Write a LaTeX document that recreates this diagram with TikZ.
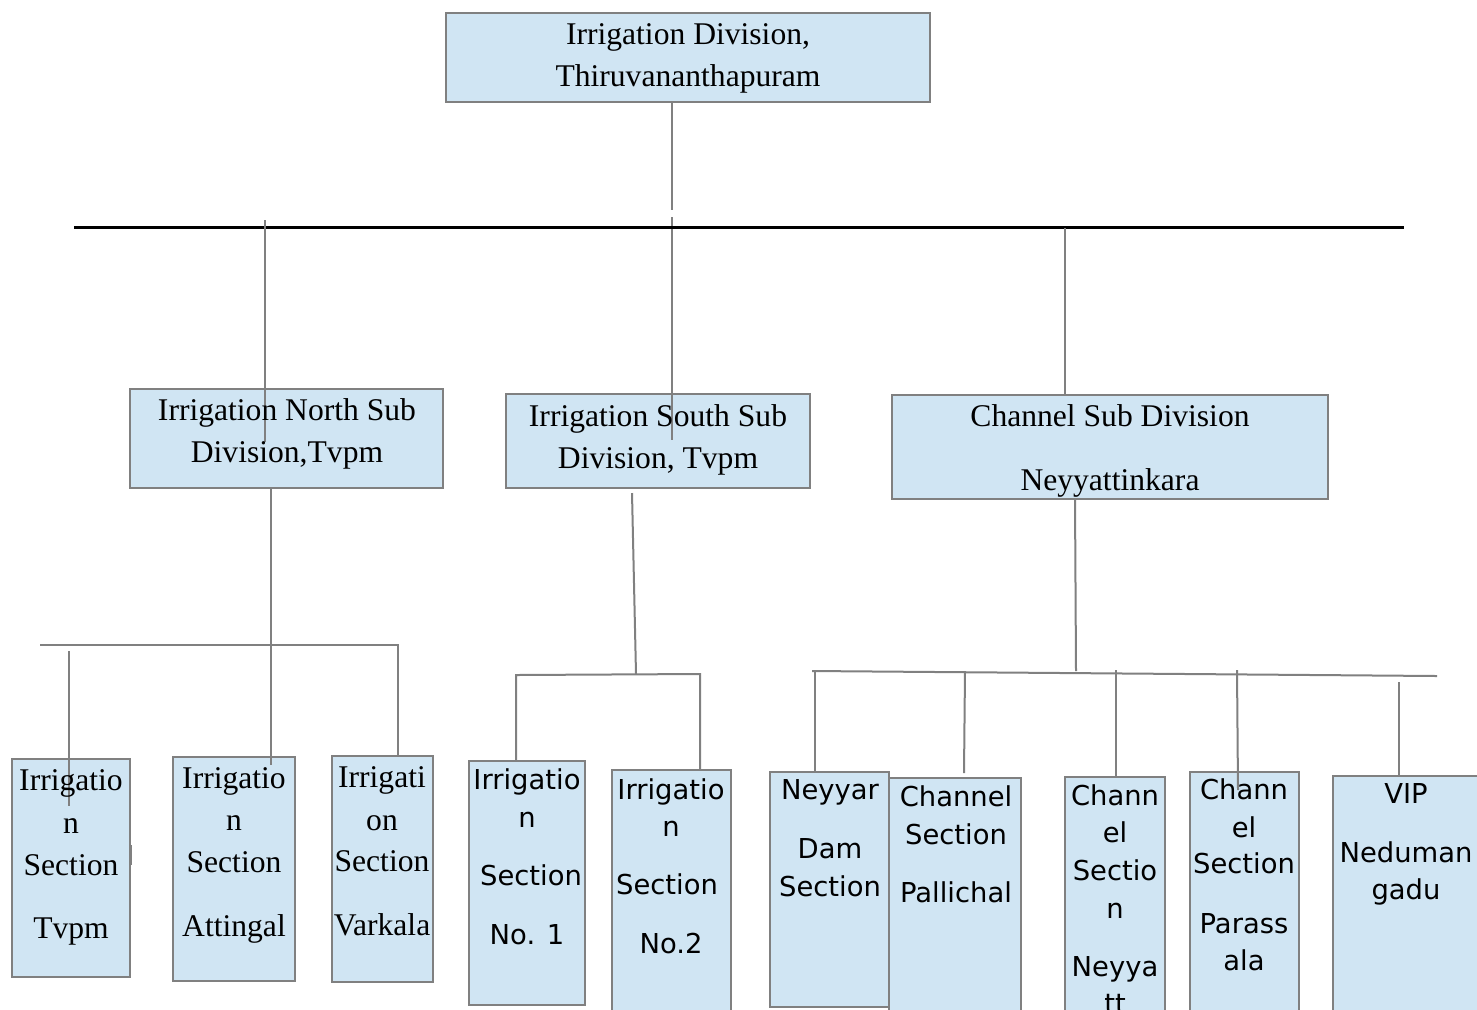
\documentclass[tikz,border=0pt]{standalone}
\usepackage{fontspec}
\setmainfont{Liberation Serif}
\newfontfamily\dejavu{DejaVu Sans}
\usetikzlibrary{fit}
\definecolor{boxfill}{RGB}{208,229,243}
\definecolor{linegray}{RGB}{128,128,128}
\tikzset{
  orgbox/.style={draw=linegray, line width=1pt, fill=boxfill, inner sep=0pt},
  conn/.style={draw=linegray, line width=1pt},
  busline/.style={draw=black, line width=1.5pt},
  sertxt/.style={anchor=base, inner sep=0pt, font=\fontsize{15.8}{19}\selectfont},
  santxt/.style={anchor=base, inner sep=0pt, font=\dejavu\fontsize{13.7}{16}\selectfont},
}
\begin{document}
\begin{tikzpicture}[x=0.5pt,y=-0.5pt]
\useasboundingbox (0,0) rectangle (1477,1009);
\clip (0,0) rectangle (1477,1009);
\fill[white] (0,0) rectangle (1477,1009);

% ---------- boxes ----------
\node[orgbox, fit={(446,13) (930,102)}] (top) {};
\node[orgbox, fit={(130,389) (443,488)}] (north) {};
\node[orgbox, fit={(506,394) (810,488)}] (south) {};
\node[orgbox, fit={(892,395) (1328,499)}] (chan) {};

\node[orgbox, fit={(12,759) (130,977)}] (tvpm) {};
\node[orgbox, fit={(173,757) (295,981)}] (attingal) {};
\node[orgbox, fit={(332,756) (433,982)}] (varkala) {};

\node[orgbox, fit={(469,761) (585,1005)}] (sno1) {};
\node[orgbox, fit={(612,770) (731,1030)}] (sno2) {};

\node[orgbox, fit={(770,772) (889,1007)}] (neyyar) {};
\node[orgbox, fit={(889,778) (1021,1030)}] (pallichal) {};
\node[orgbox, fit={(1065,777) (1165,1030)}] (neyyatt) {};
\node[orgbox, fit={(1190,772) (1299,1030)}] (parassala) {};
\node[orgbox, fit={(1333,776) (1490,1030)}] (vip) {};

% ---------- connectors ----------
\coordinate (topEnd) at (672,210);
\coordinate (midStart) at (672,217);
\coordinate (midEnd) at (672,440);
\coordinate (busL) at (74,227);
\coordinate (busR) at (1404,227);
\coordinate (nStart) at (265,220);
\coordinate (nEnd) at (265,442);
\coordinate (cStart) at (1065,228);

\draw[conn] (top.south -| topEnd) -- (topEnd);
\draw[conn] (midStart) -- (midEnd);
\draw[busline] (busL) -- (busR);
\draw[conn] (nStart) -- (nEnd);
\draw[conn] (cStart) -- (chan.north -| cStart);

% north subtree
\coordinate (nDown) at (271,765);
\coordinate (nBusL) at (40,645);
\coordinate (nBusR) at (398,645);
\coordinate (tvA) at (69,651);
\coordinate (tvB) at (69,806);
\coordinate (tickA) at (131,845);
\coordinate (tickB) at (131,865);
\draw[conn] (north.south -| nDown) -- (nDown);
\draw[conn] (nBusL) -- (nBusR) -- (varkala.north -| nBusR);
\draw[conn] (tvA) -- (tvB);
\draw[conn, line width=0.6pt] (tickA) -- (tickB);

% south subtree
\coordinate (sTop) at (632,493);
\coordinate (sMid) at (636,674);
\coordinate (sBusL) at (516,675);
\coordinate (sBusR) at (700,674);
\draw[conn] (sTop) -- (sMid);
\draw[conn] (sno1.north -| sBusL) -- (sBusL) -- (sBusR) -- (sno2.north -| sBusR);

% channel subtree
\coordinate (cTop) at (1075,499);
\coordinate (cMid) at (1076,671);
\coordinate (cBusL) at (812,671);
\coordinate (cBusR) at (1437,676);
\coordinate (c1) at (815,671);
\coordinate (c2a) at (965,671);
\coordinate (c2b) at (964,773);
\coordinate (c3a) at (1116,670);
\coordinate (c4a) at (1237,670);
\coordinate (c4b) at (1238,790);
\coordinate (c5a) at (1399,682);
\draw[conn] (cTop) -- (cMid);
\draw[conn] (cBusL) -- (cBusR);
\draw[conn] (c1) -- (neyyar.north -| c1);
\draw[conn] (c2a) -- (c2b);
\draw[conn] (c3a) -- (neyyatt.north -| c3a);
\draw[conn] (c4a) -- (c4b);
\draw[conn] (c5a) -- (vip.north -| c5a);

% ---------- texts ----------
\node[sertxt] (t1) at (688,44) {Irrigation Division,};
\node[sertxt] (t2) at (688,86) {Thiruvananthapuram};

\node[sertxt] (n1) at (287,420) {Irrigation North Sub};
\node[sertxt] (n2) at (287,462) {Division,Tvpm};

\node[sertxt] (s1) at (658,426) {Irrigation South Sub};
\node[sertxt] (s2) at (658,468) {Division, Tvpm};

\node[sertxt] (ch1) at (1110,426) {Channel Sub Division};
\node[sertxt] (ch2) at (1110,490) {Neyyattinkara};

\node[sertxt] (tv1) at (71,790) {Irrigatio};
\node[sertxt] (tv2) at (71,833) {n};
\node[sertxt] (tv3) at (71,875) {Section};
\node[sertxt] (tv4) at (71,938) {Tvpm};

\node[sertxt] (at1) at (234,788) {Irrigatio};
\node[sertxt] (at2) at (234,830) {n};
\node[sertxt] (at3) at (234,872) {Section};
\node[sertxt] (at4) at (234,936) {Attingal};

\node[sertxt] (va1) at (382,787) {Irrigati};
\node[sertxt] (va2) at (382,830) {on};
\node[sertxt] (va3) at (382,871) {Section};
\node[sertxt] (va4) at (382,935) {Varkala};

\node[santxt] (a1) at (527,789) {Irrigatio};
\node[santxt] (a2) at (527,827) {n};
\node[santxt] (a3) at (531,885) {Section};
\node[santxt] (a4) at (527,944) {No. 1};

\node[santxt] (b1) at (671,799) {Irrigatio};
\node[santxt] (b2) at (671,836) {n};
\node[santxt] (b3) at (667,894) {Section};
\node[santxt] (b4) at (671,953) {No.2};

\node[santxt] (d1) at (830,799) {Neyyar};
\node[santxt] (d2) at (830,858) {Dam};
\node[santxt] (d3) at (830,896) {Section};

\node[santxt] (p1) at (956,806) {Channel};
\node[santxt] (p2) at (956,844) {Section};
\node[santxt] (p3) at (956,902) {Pallichal};

\node[santxt] (y1) at (1115,805) {Chann};
\node[santxt] (y2) at (1115,842) {el};
\node[santxt] (y3) at (1115,880) {Sectio};
\node[santxt] (y4) at (1115,918) {n};
\node[santxt] (y5) at (1115,976) {Neyya};
\node[santxt] (y6) at (1115,1013) {tt};

\node[santxt] (r1) at (1244,799) {Chann};
\node[santxt] (r2) at (1244,837) {el};
\node[santxt] (r3) at (1244,873) {Section};
\node[santxt] (r4) at (1244,933) {Parass};
\node[santxt] (r5) at (1244,970) {ala};

\node[santxt] (v1) at (1406,803) {VIP};
\node[santxt] (v2) at (1406,862) {Neduman};
\node[santxt] (v3) at (1406,899) {gadu};
\end{tikzpicture}
\end{document}
